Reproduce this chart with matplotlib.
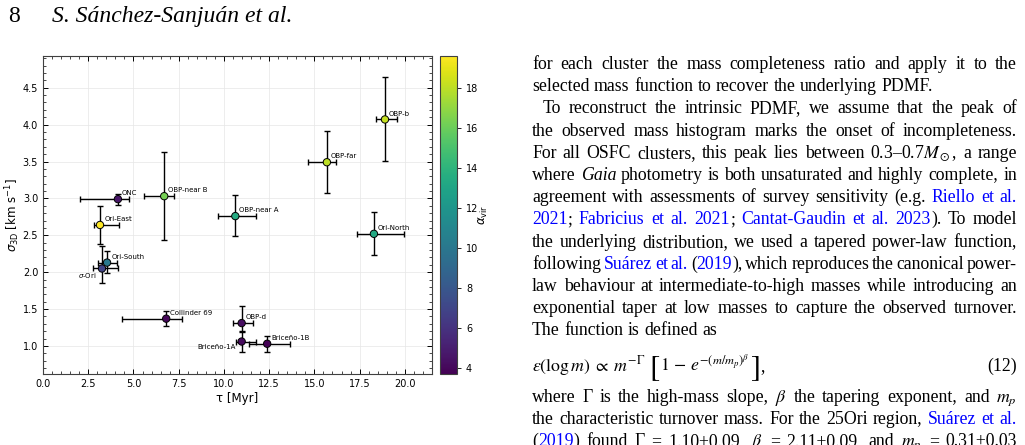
import re
import numpy as np
import matplotlib
matplotlib.use('Agg')
import matplotlib.pyplot as plt
from matplotlib.colors import Normalize

# cluster values
names = ['ONC', 'Ori-East', 'Ori-South', r'$\sigma$-Ori', 'Collinder 69', 'OBP-d',
         'Briceño-1A', 'Briceño-1B', 'OBP-near B', 'OBP-near A', 'OBP-far', 'OBP-b', 'Ori-North']
tau = [4.14, 3.15, 3.54, 3.26, 6.81, 10.98, 10.98, 12.39, 6.70, 10.63, 15.69, 18.90, 18.29]
tau_lo = [2.10, 0.33, 0.50, 0.48, 2.46, 0.50, 0.30, 1.00, 1.12, 0.94, 1.07, 0.50, 0.92]
tau_hi = [0.60, 1.05, 0.56, 0.90, 0.85, 0.60, 0.80, 1.25, 0.52, 1.17, 0.50, 0.64, 1.65]
sigma = [2.99, 2.64, 2.13, 2.05, 1.37, 1.31, 1.06, 1.03, 3.03, 2.76, 3.49, 4.07, 2.52]
sig_lo = [0.08, 0.26, 0.14, 0.19, 0.10, 0.12, 0.14, 0.11, 0.60, 0.27, 0.42, 0.56, 0.29]
sig_hi = [0.07, 0.26, 0.16, 0.30, 0.10, 0.23, 0.14, 0.11, 0.60, 0.28, 0.43, 0.57, 0.29]
alpha_vir = [4.6, 19.6, 10.1, 6.9, 4.0, 4.3, 4.1, 3.7, 16.3, 13.4, 18.0, 18.2, 13.3]
left_labels = [r'$\sigma$-Ori', 'Briceño-1A']

# page text next to the figure; {b:..} = link colour, {i:..} = italic
body_lines = [
    ('for each cluster the mass completeness ratio and apply it to the', 'j'),
    ('selected mass function to recover the underlying PDMF.', 'l'),
    ('To reconstruct the intrinsic PDMF, we assume that the peak of', 'ji'),
    ('the observed mass histogram marks the onset of incompleteness.', 'j'),
    (r'For all OSFC clusters, this peak lies between 0.3–0.7$M_\odot$, a range', 'j'),
    ('where {i:Gaia} photometry is both unsaturated and highly complete, in', 'j'),
    ('agreement with assessments of survey sensitivity (e.g. {b:Riello} {b:et} {b:al.}', 'j'),
    ('{b:2021}; {b:Fabricius} {b:et} {b:al.} {b:2021}; {b:Cantat-Gaudin} {b:et} {b:al.} {b:2023}). To model', 'j'),
    ('the underlying distribution, we used a tapered power-law function,', 'j'),
    ('following {b:Suárez} {b:et} {b:al.} ({b:2019}), which reproduces the canonical power-', 'j'),
    ('law behaviour at intermediate-to-high masses while introducing an', 'j'),
    ('exponential taper at low masses to capture the observed turnover.', 'j'),
    ('The function is defined as', 'l'),
    (r'where Γ is the high-mass slope, $\beta$ the tapering exponent, and $m_p$', 'j'),
    ('the characteristic turnover mass. For the 25Ori region, {b:Suárez} {b:et} {b:al.}', 'j'),
    (r'({b:2019}) found Γ = 1.10±0.09, $\beta$ = 2.11±0.09, and $m_p$ = 0.31±0.03', 'j'),
]
eq_parts = [r'$\varepsilon(\log m)\;\propto\;m^{-\Gamma}$', '[', r'$1\,-\,e^{-(m/m_p)^{\beta}}$', ']', ',']
eq_number = '(12)'
header_page = '8'
header_title = 'S. Sánchez-Sanjuán et al.'

W, H = 1025, 445
fig = plt.figure(figsize=(W / 100, H / 100), dpi=100)


def fx(px):
    return px / W


def fy(py):
    return 1 - py / H


# ---- chart ----
ax = fig.add_axes([fx(43), fy(374), 389 / W, 318 / H])
cax = fig.add_axes([fx(440), fy(374), 17 / W, 318 / H])

norm = Normalize(vmin=min(alpha_vir), vmax=max(alpha_vir))
ax.errorbar(tau, sigma, xerr=[tau_lo, tau_hi], yerr=[sig_lo, sig_hi], fmt='none',
            ecolor='k', elinewidth=1.0, capsize=2, capthick=1.0, zorder=2)
sc = ax.scatter(tau, sigma, c=alpha_vir, cmap='viridis', norm=norm, s=28,
                edgecolors='k', linewidths=0.7, zorder=3)

for n, x, y in zip(names, tau, sigma):
    if n in left_labels:
        ax.annotate(n, (x, y), xytext=(-4, -2), textcoords='offset points',
                    fontsize=5, ha='right', va='top')
    else:
        ax.annotate(n, (x, y), xytext=(3, 2), textcoords='offset points',
                    fontsize=5, ha='left', va='bottom')

ax.set_xlim(0, 21.5)
ax.set_ylim(0.62, 4.93)
ax.set_xlabel('τ [Myr]', fontsize=8.5, labelpad=2)
ax.set_ylabel(r'$\sigma_{\rm 3D}$ [km s$^{-1}$]', fontsize=8.5, labelpad=0.5)
ax.minorticks_on()
ax.tick_params(which='both', direction='in', top=True, right=True, labelsize=7)
ax.tick_params(which='major', length=3.5, width=0.7)
ax.tick_params(which='minor', length=2, width=0.5)
ax.grid(True, which='major', color='0.9', lw=0.5)
for s in ax.spines.values():
    s.set_color('0.25')

cb = fig.colorbar(sc, cax=cax)
cb.set_label(r'$\alpha_{\rm vir}$', fontsize=8.5, labelpad=-1)
cb.ax.tick_params(labelsize=7, length=3, width=0.6)
cb.outline.set_edgecolor('0.25')

# ---- page text ----
renderer = fig.canvas.get_renderer()
body_size = 12.8
serif = 'Liberation Serif'
text_left, text_right = 532, 1017


def put(style, s, x, y, size=body_size, **kw):
    return fig.text(fx(x), fy(y), s, fontsize=size, family=serif,
                    style='italic' if 'i' in style else 'normal',
                    color='#0000ff' if 'b' in style else 'black',
                    math_fontfamily='stix', va='baseline', ha='left', **kw)


def wid(t):
    return t.get_window_extent(renderer).width


probe1 = put('', 'x x', 0, -50)
probe2 = put('', 'xx', 0, -50)
space = wid(probe1) - wid(probe2)
probe1.remove()
probe2.remove()

frag_re = re.compile(r'\{(\w):(.*?)\}|([^{}]+)')

baselines = [69 + 22.2 * k for k in range(13)] + [401.5, 423.7, 445.9]
for (line, mode), yb in zip(body_lines, baselines):
    words = []
    for w in line.split(' '):
        frags = []
        for m in frag_re.finditer(w):
            if m.group(3) is not None:
                t = put('', m.group(3), 0, yb)
            else:
                t = put(m.group(1), m.group(2), 0, yb)
            frags.append((t, wid(t)))
        words.append(frags)
    widths = [sum(fw for _, fw in fr) for fr in words]
    x0 = text_left + (11 if 'i' in mode else 0)
    if 'j' in mode and len(words) > 1:
        gap = (text_right - x0 - sum(widths)) / (len(words) - 1)
    else:
        gap = space
    x = x0
    for fr in words:
        for t, fw in fr:
            t.set_x(fx(x))
            x += fw
        x += gap

# display equation, with tall brackets drawn larger
eq_y = 371
x = text_left
for part in eq_parts:
    if part == '[':
        t = fig.text(fx(x + 4), fy(eq_y + 4), part, fontsize=22, family='STIXGeneral',
                     va='baseline', ha='left')
        x += wid(t) + 5
    elif part == ']':
        t = fig.text(fx(x + 1), fy(eq_y + 4), part, fontsize=22, family='STIXGeneral',
                     va='baseline', ha='left')
        x += wid(t) + 1
    else:
        t = put('', part, x, eq_y)
        x += wid(t)
fig.text(fx(text_right), fy(eq_y), eq_number, fontsize=body_size, family=serif,
         va='baseline', ha='right')

fig.text(fx(8), fy(22), header_page, fontsize=17, family=serif, va='baseline')
fig.text(fx(52), fy(22), header_title, fontsize=17, family=serif,
         style='italic', va='baseline')

fig.savefig('out.png', dpi=100)
